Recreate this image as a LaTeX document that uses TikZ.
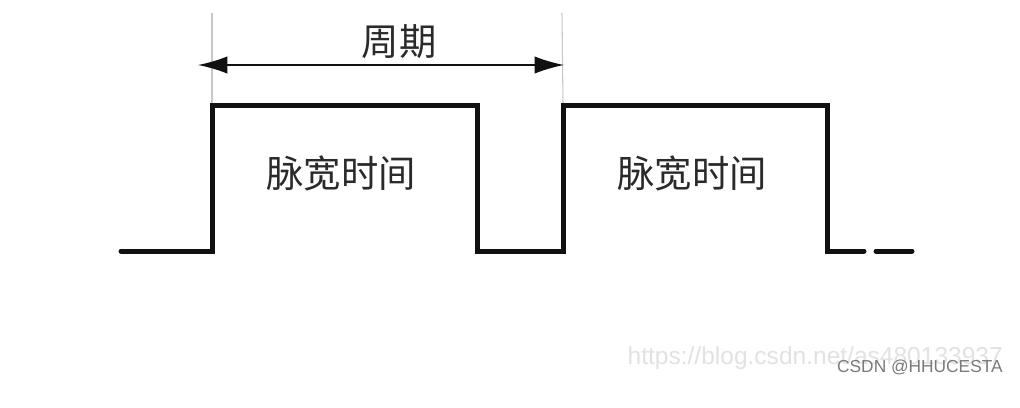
\documentclass[tikz,border=0pt]{standalone}
\usepackage{fontspec}
\usetikzlibrary{arrows.meta}
\newfontfamily\cjk{Noto Sans CJK SC}
\newfontfamily\wmfont{Liberation Sans}
\definecolor{inkc}{HTML}{111111}
\definecolor{guidec}{HTML}{C8C8C8}
\definecolor{txtc}{HTML}{2A2A2A}
\definecolor{wmlight}{HTML}{E2E2E2}
\definecolor{wmdark}{HTML}{7A7A7A}
\tikzset{
  wave/.style={draw=inkc, line width=3.75pt, line cap=round, line join=miter},
  guide/.style={draw=guidec, line width=0.8pt},
  period/.style={draw=inkc, line width=1.1pt, {Latex[length=22pt,width=13pt]}-{Latex[length=22pt,width=13pt]}},
  cjklabel/.style={inner sep=0pt, text=txtc, font=\cjk\fontsize{28pt}{30pt}\selectfont},
}
\begin{document}
\begin{tikzpicture}[x=0.75pt,y=-0.75pt]
\useasboundingbox[fill=white] (0,0) rectangle (1020,407);
% coordinates of the waveform
\coordinate (s) at (121,251);
\coordinate (r1b) at (212,251);
\coordinate (r1t) at (212,105);
\coordinate (f1t) at (477,105);
\coordinate (f1b) at (477,251);
\coordinate (r2b) at (563,251);
\coordinate (r2t) at (563,105);
\coordinate (f2t) at (827,105);
\coordinate (f2b) at (827,251);
\coordinate (e1) at (864,251);
\coordinate (d1) at (876,251);
\coordinate (d2) at (912,251);
% guide lines
\coordinate (g1) at (212,13);
\coordinate (g2) at (562,13);
\draw[guide] (g1) -- (r1t);
\draw[guide] (g2) -- (r2t);
% waveform
\draw[wave] (s) -- (r1b) -- (r1t) -- (f1t) -- (f1b) -- (r2b) -- (r2t) -- (f2t) -- (f2b) -- (e1);
\draw[wave] (d1) -- (d2);
% period arrow
\coordinate (a1) at (198,65);
\coordinate (a2) at (564,65);
\draw[period] (a1) -- (a2);
% labels
\node[cjklabel] (per) at (399,42) {周期};
\node[cjklabel] (pw1) at (341,173) {脉宽时间};
\node[cjklabel] (pw2) at (692,173) {脉宽时间};
% watermarks
\node[anchor=east, inner sep=0pt, text=wmlight, font=\wmfont\fontsize{18.4pt}{20pt}\selectfont] (wm1) at (1003,358) {https://blog.csdn.net/as480133937};
\node[anchor=east, inner sep=0pt, text=wmdark, font=\wmfont\fontsize{13pt}{15pt}\selectfont] (wm2) at (1003,367) {CSDN @HHUCESTA};
\end{tikzpicture}
\end{document}
